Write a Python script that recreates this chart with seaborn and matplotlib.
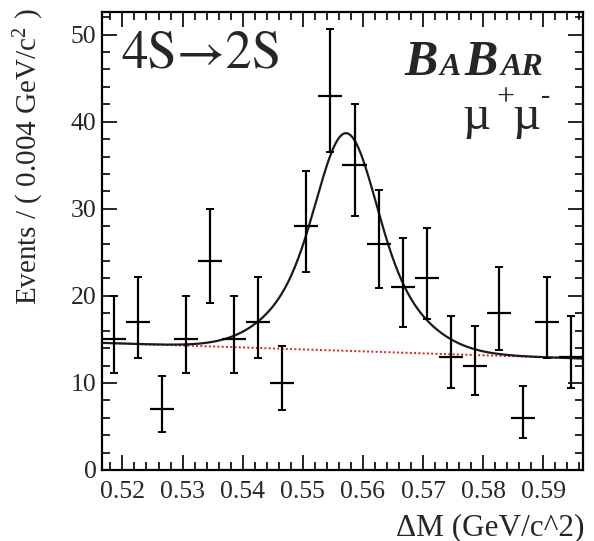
import numpy as np
import pandas as pd
import matplotlib
matplotlib.use("Agg")
import matplotlib.pyplot as plt
import seaborn as sns
from matplotlib.offsetbox import TextArea, HPacker, AnchoredOffsetbox
from matplotlib.ticker import MultipleLocator, FormatStrFormatter

# data: bin centres (0.004 GeV/c^2 bins), counts and Poisson errors
bin_centers = [0.5186, 0.5226, 0.5266, 0.5306, 0.5346, 0.5386, 0.5426, 0.5466,
               0.5506, 0.5546, 0.5586, 0.5626, 0.5666, 0.5706, 0.5746, 0.5786,
               0.5826, 0.5866, 0.5906, 0.5946]
counts = [15, 17, 7, 15, 24, 15, 17, 10, 28, 43, 35, 26, 21, 22, 13, 12, 18, 6, 17, 13]
err_low = [3.83, 4.08, 2.58, 3.83, 4.86, 3.83, 4.08, 3.10, 5.26, 6.52,
           5.88, 5.06, 4.54, 4.65, 3.55, 3.41, 4.20, 2.38, 4.08, 3.55]
err_high = [4.97, 5.21, 3.78, 4.97, 5.97, 4.97, 5.21, 4.28, 6.36, 7.61,
            6.98, 6.17, 5.66, 5.77, 4.71, 4.57, 5.33, 3.60, 5.21, 4.71]
bin_width = 0.004

# fit result (linear background + double gaussian signal)
x_range = (0.5166, 0.5966)
bkg_left, bkg_right = 14.6, 12.8
sig_peak, sig_mean = 25.0, 0.5572
sig_s1, sig_s2, sig_frac = 0.0045, 0.009, 0.553

xs = np.linspace(x_range[0], x_range[1], 600)
bkg = bkg_left + (bkg_right - bkg_left) * (xs - x_range[0]) / (x_range[1] - x_range[0])
sig = sig_peak * (sig_frac * np.exp(-0.5 * ((xs - sig_mean) / sig_s1) ** 2)
                  + (1 - sig_frac) * np.exp(-0.5 * ((xs - sig_mean) / sig_s2) ** 2))
curve = pd.DataFrame({"x": xs, "bkg": bkg, "total": bkg + sig})

sns.set_style("ticks")
plt.rcParams["font.family"] = ["Liberation Serif", "DejaVu Serif"]
plt.rcParams["mathtext.fontset"] = "custom"
plt.rcParams["mathtext.rm"] = "Liberation Serif"
plt.rcParams["mathtext.it"] = "Liberation Serif:italic"

W, H = 594, 541
fig = plt.figure(figsize=(W / 100, H / 100), dpi=100)
ax = fig.add_axes([102 / W, 1 - 470 / H, (583 - 102) / W, (470 - 12) / H])

sns.lineplot(data=curve, x="x", y="bkg", ax=ax, color="#e02020", lw=1.4,
             linestyle=(0, (1, 1.2)), zorder=2)
sns.lineplot(data=curve, x="x", y="total", ax=ax, color="#1a1a1a", lw=1.6, zorder=3)

ax.errorbar(bin_centers, counts, yerr=[err_low, err_high], fmt="none",
            ecolor="black", elinewidth=1.6, capsize=2.6, capthick=1.4, zorder=4)
ax.errorbar(bin_centers, counts, xerr=bin_width / 2, fmt="none",
            ecolor="black", elinewidth=1.6, capsize=0, zorder=4)

ax.set_xlim(*x_range)
ax.set_ylim(0, 52.6)
ax.set_xlabel("")
ax.set_ylabel("")
ax.xaxis.set_major_locator(MultipleLocator(0.01))
ax.xaxis.set_minor_locator(MultipleLocator(0.002))
ax.yaxis.set_major_locator(MultipleLocator(10))
ax.yaxis.set_minor_locator(MultipleLocator(2))
ax.xaxis.set_major_formatter(FormatStrFormatter("%.2f"))
ax.tick_params(which="both", direction="in", top=True, right=True, color="black", width=1.2)
ax.tick_params(which="major", length=11, labelsize=18.5, pad=8)
ax.tick_params(which="minor", length=5.5)
ax.tick_params(axis="y", which="major", pad=4)
for sp in ax.spines.values():
    sp.set_visible(True)
    sp.set_linewidth(1.6)
    sp.set_color("black")

# axis titles, ROOT style (aligned to the axis ends)
fig.text(46 / W, 1 - 8 / H, "Events / ( 0.004 GeV/c$^{2}$ )", rotation=90,
         ha="right", va="top", fontsize=21)
fig.text(584 / W, 1 - 535 / H, "ΔM (GeV/c^2)", ha="right", va="baseline", fontsize=22.5)

# annotations
fig.text(121 / W, 1 - 68 / H, "4S→2S", ha="left", va="baseline", fontsize=38,
         family=["STIXGeneral", "Liberation Serif"])

big = dict(fontsize=36, fontweight="bold", fontstyle="italic")
small = dict(fontsize=23, fontweight="bold", fontstyle="italic")
logo = HPacker(children=[TextArea("B", textprops=big), TextArea("A", textprops=small),
                         TextArea("B", textprops=big), TextArea("AR", textprops=small)],
               align="baseline", pad=0, sep=2)
box = AnchoredOffsetbox(loc="lower left", child=logo, pad=0, borderpad=0, frameon=False,
                        bbox_to_anchor=(404 / W, 1 - 86 / H), bbox_transform=fig.transFigure)
fig.add_artist(box)

# mu+ mu- label
fig.text(462 / W, 1 - 129 / H, "µ", ha="left", va="baseline", fontsize=35)
fig.text(496 / W, 1 - 105 / H, "+", ha="left", va="baseline", fontsize=23)
fig.text(512 / W, 1 - 129 / H, "µ", ha="left", va="baseline", fontsize=35)
fig.text(541 / W, 1 - 103 / H, "-", ha="left", va="baseline", fontsize=20)

fig.savefig("out.png", dpi=100, facecolor="white")
